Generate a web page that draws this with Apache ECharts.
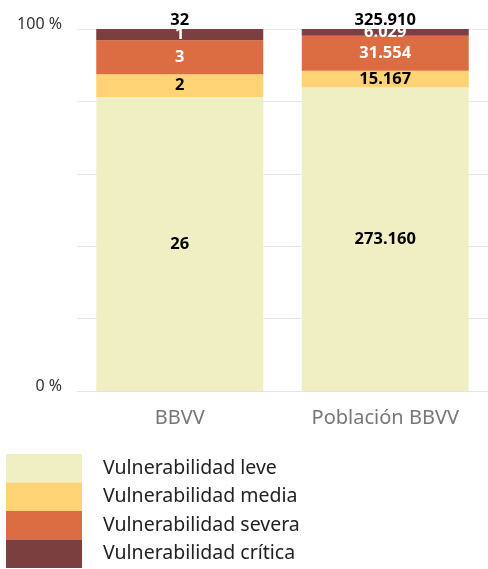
<!DOCTYPE html>
<html>
<head>
<meta charset="utf-8">
<script src="https://cdn.jsdelivr.net/npm/echarts@6/dist/echarts.min.js"></script>
<style>
  html, body { margin: 0; padding: 0; background: #fff; }
  #chart { width: 488px; height: 569px; }
</style>
</head>
<body>
<div id="chart"></div>
<script>
// Categories and counts per vulnerability level
const categories = ['BBVV', 'Población BBVV'];
const seriesNames = ['Vulnerabilidad leve', 'Vulnerabilidad media', 'Vulnerabilidad severa', 'Vulnerabilidad crítica'];
const leve = [26, 273160];
const media = [2, 15167];
const severa = [3, 31554];
const critica = [1, 6029];
const totals = [32, 325910];
const yTickLabels = { 0: '0 %', 100: '100 %' };

const colors = ['#F0EFC4', '#FDD375', '#DC6C42', '#7B3F3F'];
const labelColors = ['#000', '#000', '#fff', '#fff'];
const FONT = '"Noto Sans", "Open Sans", sans-serif';

function fmt(n) {
  return String(n).replace(/\B(?=(\d{3})+(?!\d))/g, '.');
}

const raw = [leve, media, severa, critica];

const series = raw.map((vals, i) => ({
  name: seriesNames[i],
  type: 'bar',
  stack: 'total',
  barWidth: 167,
  itemStyle: { color: colors[i] },
  data: vals.map((v, j) => ({ value: v / totals[j] * 100, raw: v })),
  label: {
    show: true,
    position: 'inside',
    color: labelColors[i],
    fontFamily: FONT,
    fontWeight: 'bold',
    fontSize: 16.5,
    formatter: p => fmt(p.data.raw)
  },
  emphasis: { disabled: true }
}));

// zero-height segment carrying the total above each bar
series.push({
  name: 'total',
  type: 'bar',
  stack: 'total',
  barWidth: 167,
  itemStyle: { color: 'transparent' },
  data: totals.map(t => ({ value: 0, raw: t })),
  label: {
    show: true,
    position: 'top',
    distance: 0,
    color: '#000',
    fontFamily: FONT,
    fontWeight: 'bold',
    fontSize: 16.5,
    formatter: p => fmt(p.data.raw)
  },
  emphasis: { disabled: true }
});

const chart = echarts.init(document.getElementById('chart'));
chart.setOption({
  animation: false,
  grid: { left: 77, width: 415, top: 29, bottom: 178 },
  legend: {
    data: seriesNames,
    orient: 'vertical',
    left: 6,
    top: 454,
    padding: 0,
    icon: 'rect',
    itemWidth: 76,
    itemHeight: 28.5,
    itemGap: 0,
    selectedMode: false,
    textStyle: {
      fontFamily: FONT,
      fontSize: 19.5,
      color: '#222',
      padding: [0, 0, 0, 16]
    }
  },
  xAxis: {
    type: 'category',
    data: categories,
    axisLine: { show: true, lineStyle: { color: '#e3e3e3' } },
    axisTick: { show: false },
    axisLabel: {
      margin: 17,
      fontFamily: FONT,
      fontSize: 20,
      color: '#777'
    }
  },
  yAxis: {
    type: 'value',
    min: 0,
    max: 100,
    interval: 20,
    axisLine: { show: false },
    axisTick: { show: false },
    splitLine: { lineStyle: { color: '#e8e8e8' } },
    axisLabel: {
      margin: 15,
      fontFamily: FONT,
      fontSize: 16,
      color: '#333',
      verticalAlign: 'bottom',
      lineHeight: 10,
      formatter: v => yTickLabels[v] || ''
    }
  },
  series
});
</script>
</body>
</html>
